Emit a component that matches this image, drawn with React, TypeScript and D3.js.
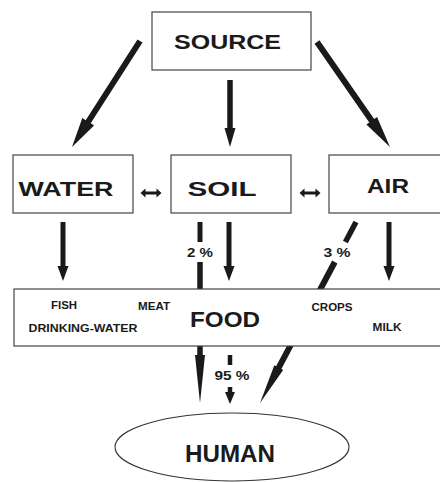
import React from 'react';
import * as d3 from 'd3';

// diagram content
const sourceLabel = 'SOURCE';
const media = ['WATER', 'SOIL', 'AIR'];
const foodLabel = 'FOOD';
const foodItems = ['FISH', 'MEAT', 'DRINKING-WATER', 'CROPS', 'MILK'];
const targetLabel = 'HUMAN';
const shares = ['2 %', '3 %', '95 %'];

const W = 440;
const H = 482;
const FONT = '"Liberation Sans", Arial, Helvetica, sans-serif';
const INK = '#1a1a1a';

// column centres for the three media boxes
const col = d3.scalePoint<string>().domain(media).range([73, 389]);
const BOX_W = 120;
const ROW1 = { y: 155, h: 58 };
const SRC = { x: 152, y: 12, w: 159, h: 58 };
const FOOD = { x: 14, y: 289, w: 440, h: 57 };
const HUMAN = { cx: 232, cy: 447, rx: 117, ry: 34 };

// label placement (centre x, baseline, text length)
const mediaText: Record<string, [number, number, number]> = {
  WATER: [66, 196, 95],
  SOIL: [222, 196, 69],
  AIR: [388, 193, 42],
};
const foodText: Record<string, [number, number, number]> = {
  FISH: [64, 309, 26],
  MEAT: [154, 310, 32],
  'DRINKING-WATER': [83, 332, 109],
  CROPS: [332, 311, 41],
  MILK: [387, 331, 29],
};
const shareText: Record<string, [number, number, number]> = {
  '2 %': [200, 257, 26],
  '3 %': [337, 257, 27],
  '95 %': [232, 380, 35],
};

// polygon for an arrow from p1 to p2
function arrow(
  x1: number, y1: number, x2: number, y2: number,
  shaft: number, headW: number, headL: number
): string {
  const len = Math.hypot(x2 - x1, y2 - y1);
  const ux = (x2 - x1) / len;
  const uy = (y2 - y1) / len;
  const nx = -uy;
  const ny = ux;
  const bx = x2 - ux * headL;
  const by = y2 - uy * headL;
  const s = shaft / 2;
  const h = headW / 2;
  const pts: [number, number][] = [
    [x1 + nx * s, y1 + ny * s],
    [bx + nx * s, by + ny * s],
    [bx + nx * h, by + ny * h],
    [x2, y2],
    [bx - nx * h, by - ny * h],
    [bx - nx * s, by - ny * s],
    [x1 - nx * s, y1 - ny * s],
  ];
  return d3.line()(pts) + 'Z';
}

// plain bar between two points
function bar(x1: number, y1: number, x2: number, y2: number, w: number): string {
  const len = Math.hypot(x2 - x1, y2 - y1);
  const nx = -(y2 - y1) / len;
  const ny = (x2 - x1) / len;
  const s = w / 2;
  return d3.line()([
    [x1 + nx * s, y1 + ny * s],
    [x2 + nx * s, y2 + ny * s],
    [x2 - nx * s, y2 - ny * s],
    [x1 - nx * s, y1 - ny * s],
  ]) + 'Z';
}

// double-headed arrow (horizontal)
function doubleArrow(cx: number, cy: number): string {
  const half = 10.5;
  const hl = 5;
  const hw = 4.5;
  const s = 1.6;
  return d3.line()([
    [cx - half, cy],
    [cx - half + hl, cy - hw],
    [cx - half + hl, cy - s],
    [cx + half - hl, cy - s],
    [cx + half - hl, cy - hw],
    [cx + half, cy],
    [cx + half - hl, cy + hw],
    [cx + half - hl, cy + s],
    [cx - half + hl, cy + s],
    [cx - half + hl, cy + hw],
  ]) + 'Z';
}

// soil->human and air->human indirect routes
const soilX = 200;
const airLine = (y: number) => 356 - (96 / 181) * (y - 222);

const App: React.FC = () => {
  const soil = col('SOIL')!;
  const paths: string[] = [
    // source -> media
    arrow(140, 41, col('WATER')! - 1, 147, 6, 14, 30),
    arrow(soil - 1, 80, soil - 1, 147, 5.5, 11, 19),
    arrow(317, 42, col('AIR')! + 1, 147, 6, 13, 32),
    // media -> food
    arrow(63, 222, 63, 281, 5, 11, 15),
    arrow(229, 222, 229, 281, 5, 11, 15),
    arrow(389, 222, 389, 281, 5, 11, 15),
    // exchanges between media
    doubleArrow(151, 193),
    doubleArrow(310, 193),
    // 2 % route (soil -> human)
    bar(soilX, 222, soilX, 242, 5),
    arrow(soilX, 262, soilX, 403, 5.5, 10, 48),
    // 3 % route (air -> human)
    bar(airLine(222), 222, airLine(242), 242, 5.5),
    arrow(airLine(262), 262, 260, 403, 6, 10, 40),
    // 95 % (food -> human)
    bar(230, 355, 230, 365, 4.5),
    arrow(230, 387, 230, 404, 4.5, 10, 12),
  ];

  const label = (
    t: string, x: number, y: number, size: number, len: number
  ) => (
    <text
      key={t}
      x={x}
      y={y}
      textAnchor="middle"
      fontFamily={FONT}
      fontWeight="bold"
      fontSize={size}
      fill={INK}
      textLength={len}
      lengthAdjust="spacingAndGlyphs"
    >
      {t}
    </text>
  );

  return (
    <svg
      width={W}
      height={H}
      style={{ position: 'absolute', left: 0, top: 0, background: '#fff' }}
    >
      <rect width={W} height={H} fill="#fff" />
      {paths.map((d, i) => (
        <path key={i} d={d} fill={INK} />
      ))}

      {/* source */}
      <rect x={SRC.x} y={SRC.y} width={SRC.w} height={SRC.h} fill="#fff" stroke="#444" strokeWidth={1.2} />
      {label(sourceLabel, 227.5, 49, 21, 107)}

      {/* media */}
      {media.map((m) => (
        <g key={m}>
          <rect
            x={col(m)! - BOX_W / 2}
            y={ROW1.y}
            width={m === 'AIR' ? BOX_W + 40 : BOX_W}
            height={ROW1.h}
            fill="#fff"
            stroke="#444"
            strokeWidth={1.2}
          />
          {label(m, mediaText[m][0], mediaText[m][1], 20, mediaText[m][2])}
        </g>
      ))}

      {/* food */}
      <rect x={FOOD.x} y={FOOD.y} width={FOOD.w} height={FOOD.h} fill="#fff" stroke="#444" strokeWidth={1.2} />
      {label(foodLabel, 225, 327, 22, 70)}
      {foodItems.map((f) => label(f, foodText[f][0], foodText[f][1], 10.5, foodText[f][2]))}

      {/* shares */}
      {shares.map((s) => label(s, shareText[s][0], shareText[s][1], 13, shareText[s][2]))}

      {/* human */}
      <ellipse cx={HUMAN.cx} cy={HUMAN.cy} rx={HUMAN.rx} ry={HUMAN.ry} fill="#fff" stroke="#333" strokeWidth={1.1} />
      {label(targetLabel, 230, 462, 23, 90)}
    </svg>
  );
};

export default App;
